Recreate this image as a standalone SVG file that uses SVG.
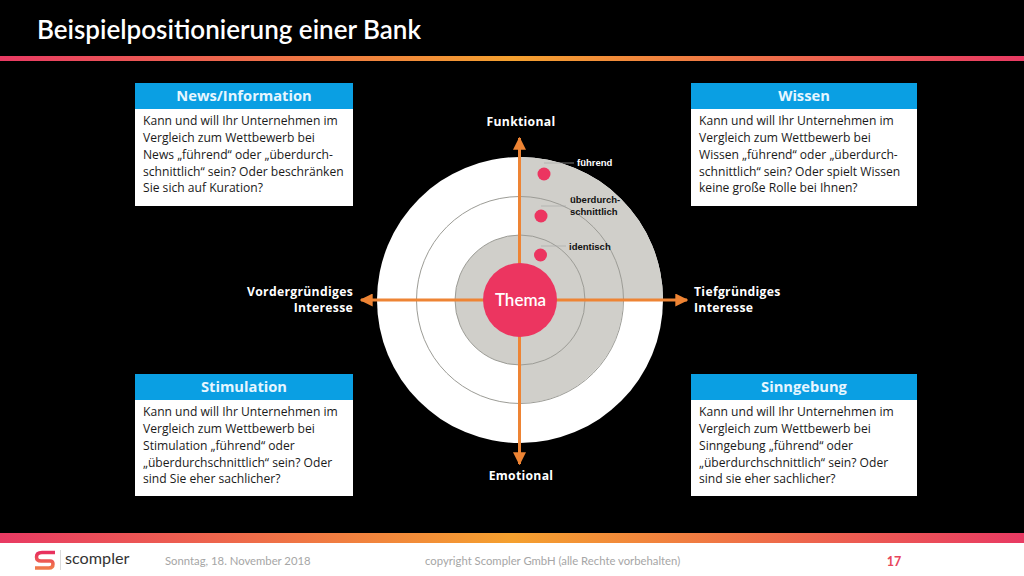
<svg xmlns="http://www.w3.org/2000/svg" width="1024" height="576" viewBox="0 0 1024 576">
<defs>
<linearGradient id="bar" x1="0" y1="0" x2="1" y2="0"><stop offset="0" stop-color="#e83a63"/><stop offset="0.5" stop-color="#f4a02f"/><stop offset="1" stop-color="#e83a63"/></linearGradient>
<linearGradient id="logo" x1="0" y1="0" x2="0" y2="1"><stop offset="0" stop-color="#e8305f"/><stop offset="1" stop-color="#f07a4a"/></linearGradient>
<marker id="ah" viewBox="0 0 10 10" refX="9" refY="5" markerWidth="13" markerHeight="13" markerUnits="userSpaceOnUse" orient="auto"><path d="M0 0L10 5L0 10Z" fill="#ee8434"/></marker>
</defs>
<style>
.b{font-family:"Open Sans","Noto Sans",sans-serif;font-size:12.1px;fill:#1a1a1a}
.h{font-family:"Open Sans","Noto Sans",sans-serif;font-size:14.700px;font-weight:700;fill:#e6f6ff;text-anchor:middle}
.a{font-family:"Open Sans","Noto Sans",sans-serif;font-size:12.2px;font-weight:700;fill:#fff;letter-spacing:.3px}
.l{font-family:"Liberation Sans",Arial,sans-serif;font-size:9.5px;font-weight:700;fill:#111}
.f{font-family:"Lato",sans-serif;font-size:11.300px;fill:#a6a6a6}
.w{fill:#fff}.hd{fill:#0a9fe3}
.ring{fill:none;stroke:#9c9c96;stroke-width:1}
.lead{fill:none;stroke:#aaa;stroke-width:.7}
.dot{fill:#ec3560}
.c{stroke:#ee8434;stroke-width:3;fill:none;marker-end:url(#ah)}
</style>
<rect width="1024" height="576" fill="#000"/>
<g id="title"><text x="37" y="38.500" font-family="Lato,sans-serif" font-size="26" font-weight="600" fill="#fff">Beispielpositionierung einer Bank</text></g>
<rect id="topbar" x="0" y="56" width="1024" height="5" fill="url(#bar)"/>
<g id="target">
<circle cx="520" cy="300" r="143" fill="#fff"/>
<path d="M520 300V157A143 143 0 0 1 663 300Z" fill="#d0cfca"/>
<path d="M520 300H623A103 103 0 0 1 520 403Z" fill="#d0cfca"/>
<circle cx="520" cy="300" r="65" fill="#d0cfca"/>
<circle class="ring" cx="520" cy="300" r="103.500"/>
<circle class="ring" cx="520" cy="300" r="65"/>
</g>
<g id="connectors">
<path class="c" d="M519.500 300V138"/>
<path class="c" d="M519.500 300V464"/>
<path class="c" d="M520 300H361"/>
<path class="c" d="M520 300H687"/>
</g>
<g id="thema"><circle class="dot" cx="520" cy="300" r="37"/><text x="520.500" y="306" font-family="Lato,sans-serif" font-size="17" font-weight="600" fill="#fff" text-anchor="middle">Thema</text></g>
<g id="level-fuehrend"><circle class="dot" cx="544" cy="174" r="6.500"/><path class="lead" d="M544 163H574"/><text class="l" style="fill:#fff" x="577" y="166">führend</text></g>
<g id="level-ueberdurch"><circle class="dot" cx="541" cy="216" r="6.500"/><path class="lead" d="M541 206H566"/><text class="l" x="570" y="203">überdurch-</text><text class="l" x="570" y="215">schnittlich</text></g>
<g id="level-identisch"><circle class="dot" cx="540.500" cy="255" r="6.500"/><path class="lead" d="M541 246H566"/><text class="l" x="569" y="249.500">identisch</text></g>
<g id="axis-labels">
<text class="a" x="521" y="126" text-anchor="middle">Funktional</text>
<text class="a" x="521" y="480" text-anchor="middle">Emotional</text>
<text class="a" x="353" y="296" text-anchor="end">Vordergründiges</text>
<text class="a" x="353" y="312" text-anchor="end">Interesse</text>
<text class="a" x="694" y="296">Tiefgründiges</text>
<text class="a" x="694" y="312">Interesse</text>
</g>
<g id="news">
<rect class="w" x="135" y="83" width="218" height="123"/><rect class="hd" x="135" y="83" width="218" height="26"/>
<text class="h" x="244" y="100.500">News/Information</text>
<text class="b" x="143" y="125">Kann und will Ihr Unternehmen im</text>
<text class="b" x="143" y="142">Vergleich zum Wettbewerb bei</text>
<text class="b" x="143" y="159">News „führend“ oder „überdurch-</text>
<text class="b" x="143" y="175.500">schnittlich“ sein? Oder beschränken</text>
<text class="b" x="143" y="192">Sie sich auf Kuration?</text>
</g>
<g id="wissen">
<rect class="w" x="691" y="83" width="226" height="123"/><rect class="hd" x="691" y="83" width="226" height="26"/>
<text class="h" x="804" y="100.500">Wissen</text>
<text class="b" x="699" y="125">Kann und will Ihr Unternehmen im</text>
<text class="b" x="699" y="142">Vergleich zum Wettbewerb bei</text>
<text class="b" x="699" y="159">Wissen „führend“ oder „überdurch-</text>
<text class="b" x="699" y="175.500">schnittlich“ sein? Oder spielt Wissen</text>
<text class="b" x="699" y="192">keine große Rolle bei Ihnen?</text>
</g>
<g id="stimulation">
<rect class="w" x="135" y="374" width="218" height="122"/><rect class="hd" x="135" y="374" width="218" height="26"/>
<text class="h" x="244" y="391.500">Stimulation</text>
<text class="b" x="143" y="416">Kann und will Ihr Unternehmen im</text>
<text class="b" x="143" y="433">Vergleich zum Wettbewerb bei</text>
<text class="b" x="143" y="450">Stimulation „führend“ oder</text>
<text class="b" x="143" y="466.500">„überdurchschnittlich“ sein? Oder</text>
<text class="b" x="143" y="483">sind Sie eher sachlicher?</text>
</g>
<g id="sinngebung">
<rect class="w" x="691" y="374" width="226" height="122"/><rect class="hd" x="691" y="374" width="226" height="26"/>
<text class="h" x="804" y="391.500">Sinngebung</text>
<text class="b" x="699" y="416">Kann und will Ihr Unternehmen im</text>
<text class="b" x="699" y="433">Vergleich zum Wettbewerb bei</text>
<text class="b" x="699" y="450">Sinngebung „führend“ oder</text>
<text class="b" x="699" y="466.500">„überdurchschnittlich“ sein? Oder</text>
<text class="b" x="699" y="483">sind sie eher sachlicher?</text>
</g>
<g id="footer">
<rect x="0" y="543" width="1024" height="33" fill="#fff"/>
<rect x="0" y="533" width="1024" height="10" fill="url(#bar)"/>
<path d="M55 552.500H42Q36.500 552.500 36.500 557Q36.500 561 41 561H50Q53 561 53 564Q53 568 49 568H35" fill="none" stroke="url(#logo)" stroke-width="3.500"/>
<path d="M60.500 550V570" stroke="#ccc" stroke-width=".7"/>
<text x="65" y="564" font-family="Lato,sans-serif" font-size="16.200" fill="#333">scompler</text>
<text class="f" x="165" y="565">Sonntag, 18. November 2018</text>
<text class="f" x="425" y="565">copyright Scompler GmbH (alle Rechte vorbehalten)</text>
<text x="894" y="566" font-family="Lato,sans-serif" font-size="12.500" font-weight="700" fill="#e8455a" text-anchor="middle">17</text>
</g>
</svg>
